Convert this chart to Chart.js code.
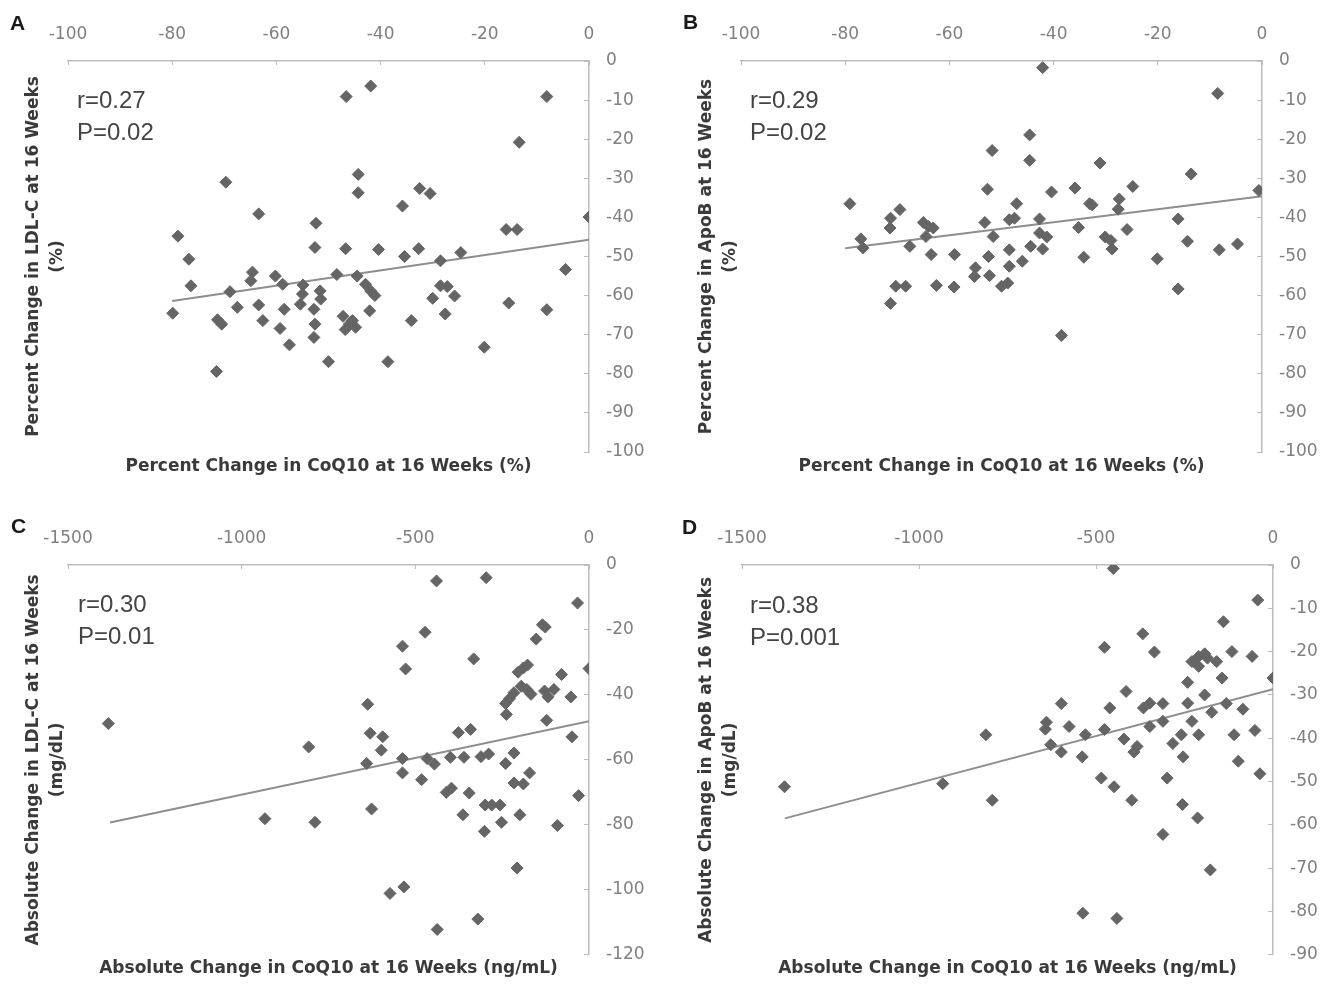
<!DOCTYPE html>
<html>
<head>
<meta charset="utf-8">
<script src="https://cdn.jsdelivr.net/npm/chart.js@4/dist/chart.umd.min.js"></script>
<style>
  body { margin: 0; background: #fff; }
  #wrap { position: relative; width: 1337px; height: 987px; overflow: hidden; }
  canvas { position: absolute; }
  .letter { position: absolute; font: bold 21px "Liberation Sans", Arial, sans-serif; color: #1a1a1a; line-height: 21px; }
  .stat { position: absolute; font: 24px "Liberation Sans", Arial, sans-serif; color: #444; line-height: 32px; }
</style>
</head>
<body>
<div id="wrap">
  <canvas id="chartA" width="673" height="495" style="left:0;top:0"></canvas>
  <canvas id="chartB" width="664" height="495" style="left:673px;top:0"></canvas>
  <canvas id="chartC" width="673" height="492" style="left:0;top:495px"></canvas>
  <canvas id="chartD" width="664" height="492" style="left:673px;top:495px"></canvas>

  <div class="letter" style="left:10px;top:12px">A</div>
  <div class="letter" style="left:683px;top:11px">B</div>
  <div class="letter" style="left:11px;top:515px">C</div>
  <div class="letter" style="left:682px;top:516px">D</div>

  <div class="stat" style="left:77px;top:84px">r=0.27<br>P=0.02</div>
  <div class="stat" style="left:750px;top:84px">r=0.29<br>P=0.02</div>
  <div class="stat" style="left:78px;top:588px">r=0.30<br>P=0.01</div>
  <div class="stat" style="left:750px;top:589px">r=0.38<br>P=0.001</div>
</div>
<script>
// Panel A: % change CoQ10 vs % change LDL-C
const aX = [-46.6, -41.9, -8.1, -13.4, -69.7, -44.3, -44.3, -32.5, -30.5, -35.8, -63.4, 0, -78.9, -52.4, -15.9, -13.8,
  -52.6, -46.7, -40.4, -32.7, -35.4, -24.6, -28.5, -76.8, -76.4, -4.5, -64.6, -64.9, -60.2, -58.8, -48.4, -44.5,
  -42.9, -41.9, -41.1, -54.9, -55.0, -51.6, -51.5, -68.9, -67.5, -63.4, -62.6, -58.5, -59.3, -55.4, -52.8, -52.6,
  -52.8, -57.5, -79.9, -71.3, -70.5, -71.5, -50.0, -38.6, -47.2, -46.0, -46.8, -44.8, -45.4, -42.1, -34.1, -30.0,
  -28.5, -27.2, -25.8, -27.6, -20.1, -15.4, -8.1];
const aY = [-9.1, -6.4, -9.1, -20.8, -31.0, -29.0, -33.7, -32.6, -33.9, -37.1, -39.1, -39.9, -44.8, -41.5, -43.1, -43.1,
  -47.7, -48.0, -48.2, -48.0, -50.0, -49.0, -51.1, -50.7, -57.5, -53.3, -54.0, -56.2, -55.0, -57.1, -54.6, -55.0,
  -57.1, -58.8, -60.0, -57.3, -59.6, -58.8, -60.9, -59.0, -63.0, -62.4, -66.4, -63.5, -68.4, -62.2, -63.5, -67.3,
  -70.7, -72.6, -64.5, -66.2, -67.3, -79.4, -76.9, -76.9, -65.3, -67.3, -68.7, -68.1, -66.4, -63.9, -66.4, -60.7,
  -57.5, -57.7, -60.1, -64.7, -73.2, -61.9, -63.6];
const aTrendX = [-80, 0];
const aTrendY = [-61.4, -45.7];

// Panel B: % change CoQ10 vs % change ApoB
const bX = [-42.1, -8.5, -44.6, -51.8, -44.6, -31.1, -13.6, -52.7, -40.4, -35.9, -24.8, -0.6, -79.1, -47.1, -33.1, -32.6,
  -27.4, -27.6, -69.5, -71.3, -71.4, -65.0, -64.0, -63.1, -64.5, -53.2, -48.5, -47.5, -42.7, -16.1, -77.0, -76.6,
  -67.6, -51.6, -42.7, -41.3, -44.4, -42.1, -35.2, -30.1, -29.0, -28.8, -25.9, -14.3, -8.2, -4.7, -63.5, -59.0,
  -52.5, -48.5, -46.0, -34.2, -20.1, -55.0, -55.2, -52.3, -48.5, -50.0, -48.8, -70.3, -68.4, -62.5, -59.1, -71.3,
  -16.1, -38.5];
const bY = [-1.7, -8.3, -18.9, -22.9, -25.4, -26.1, -28.9, -32.8, -33.5, -32.5, -32.1, -33.1, -36.5, -36.5, -36.5, -36.8,
  -35.3, -37.9, -38.0, -40.2, -42.7, -41.3, -42.3, -42.7, -44.9, -41.3, -40.6, -40.2, -40.4, -40.4, -45.5, -47.8,
  -47.4, -44.9, -44.0, -45.0, -47.4, -48.1, -42.6, -45.0, -45.9, -48.1, -43.1, -46.1, -48.3, -46.8, -49.5, -49.5,
  -50.0, -48.3, -51.2, -50.2, -50.6, -52.9, -55.1, -54.9, -52.5, -57.6, -56.8, -57.6, -57.6, -57.4, -57.8, -62.0,
  -58.3, -70.2];
const bTrendX = [-80, 0];
const bTrendY = [-47.9, -34.6];

// Panel C: absolute change CoQ10 vs absolute change LDL-C
const cX = [-439, -296, -33, -472, -537, -528, -332, -134, -126, -152, -204, -189, -177, 0, -79, -195,
  -179, -167, -216, -229, -240, -128, -118, -101, -52, -238, -122, -1384, -637, -630, -594, -598,
  -376, -341, -49, -807, -640, -537, -537, -466, -445, -399, -360, -311, -289, -216, -240, -482,
  -411, -396, -345, -216, -189, -171, -30, -626, -363, -299, -280, -256, -199, -252, -933, -789,
  -301, -91, -207, -573, -533, -437, -320];
const cY = [-4.9, -3.9, -11.7, -20.7, -25.0, -32.0, -28.9, -18.4, -19.1, -22.8, -33.0, -31.7, -30.8, -31.9, -33.7, -37.3,
  -38.3, -39.8, -39.3, -41.2, -42.6, -38.8, -40.6, -38.3, -40.6, -46.0, -47.8, -48.8, -42.9, -51.8, -52.9, -57.0,
  -51.6, -50.6, -52.9, -56.0, -61.1, -59.6, -64.0, -59.6, -61.3, -59.2, -59.2, -59.0, -58.2, -57.9, -61.1, -66.1,
  -70.0, -68.7, -70.2, -67.1, -67.4, -64.0, -71.0, -75.1, -76.9, -73.9, -73.9, -73.9, -76.9, -79.2, -78.1, -79.2,
  -82.0, -80.2, -93.3, -101.1, -99.1, -112.2, -109.0];
const cTrendX = [-1379, 0];
const cTrendY = [-79.3, -48.1];

// Panel D: absolute change CoQ10 vs absolute change ApoB
const dX = [-451, -43, -140, -368, -476, -335, -116, -59, -193, -210, -185, -229, -159, -210, 0, -144,
  -241, -415, -193, -598, -461, -366, -348, -311, -241, -132, -85, -173, -348, -311, -229, -640,
  -643, -576, -476, -811, -530, -421, -384, -393, -283, -259, -210, -110, -51, -628, -598, -539,
  -254, -98, -485, -449, -299, -37, -1380, -933, -793, -399, -256, -213, -311, -177, -537, -441];
const dY = [-0.8, -8.1, -13.1, -15.9, -19.0, -20.1, -20.0, -21.1, -20.5, -21.1, -21.5, -22.3, -22.3, -23.4, -26.1, -26.1,
  -27.1, -29.2, -30.0, -32.0, -33.0, -33.0, -31.9, -32.0, -31.9, -32.0, -33.3, -34.0, -37.3, -36.1, -36.1, -36.3,
  -37.9, -37.3, -38.0, -39.2, -39.2, -40.2, -41.9, -43.2, -41.2, -39.2, -39.2, -39.2, -38.2, -41.5, -43.2, -44.3,
  -44.3, -45.3, -49.2, -51.2, -49.2, -48.2, -51.2, -50.5, -54.3, -54.3, -55.3, -58.4, -62.2, -70.4, -80.4, -81.6];
const dTrendX = [-1379, 0];
const dTrendY = [-58.5, -28.7];

// Axis labels
const xTitlePct = 'Percent Change in CoQ10 at 16 Weeks (%)';
const xTitleAbs = 'Absolute Change in CoQ10 at 16 Weeks (ng/mL)';
const yTitleA = ['Percent Change in LDL-C at 16 Weeks', '(%)'];
const yTitleB = ['Percent Change in ApoB at 16 Weeks', '(%)'];
const yTitleC = ['Absolute Change in LDL-C at 16 Weeks', '(mg/dL)'];
const yTitleD = ['Absolute Change in ApoB at 16 Weeks', '(mg/dL)'];

function pairs(xs, ys) {
    return xs.map((x, i) => ({ x: x, y: ys[i] }));
}

function makePanel(canvasId, opts) {
    const canvas = document.getElementById(canvasId);
    const W = canvas.width, H = canvas.height;
    const p = opts.plot; // plot box inside the canvas: [left, top, right, bottom]
    const axisGray = '#bdbdbd';
    const tickFont = { family: '"DejaVu Sans", sans-serif', size: 17 };
    const titleFamily = '"DejaVu Sans", sans-serif';

    new Chart(canvas, {
        type: 'scatter',
        data: {
            datasets: [{
                data: pairs(opts.xs, opts.ys),
                pointStyle: 'rectRot',
                pointRadius: 6,
                backgroundColor: '#656565',
                borderColor: '#656565',
                borderWidth: 1,
                xAxisID: 'x',
                yAxisID: 'y'
            }, {
                data: pairs(opts.trendX, opts.trendY),
                showLine: true,
                pointRadius: 0,
                borderColor: '#8e8e8e',
                borderWidth: 2,
                xAxisID: 'x',
                yAxisID: 'y'
            }]
        },
        options: {
            responsive: false,
            animation: false,
            layout: { padding: 0 },
            plugins: { legend: { display: false }, tooltip: { enabled: false } },
            scales: {
                x: {
                    type: 'linear',
                    position: 'top',
                    min: opts.xMin, max: 0,
                    ticks: { stepSize: opts.xStep, color: '#808080', font: tickFont, padding: 20,
                        callback: v => String(v) },
                    grid: { drawOnChartArea: false, drawTicks: true, tickLength: -4, color: axisGray },
                    border: { color: axisGray, width: 1.5 },
                    afterFit: s => { s.height = p[1]; }
                },
                y: {
                    type: 'linear',
                    position: 'right',
                    min: opts.yMin, max: 0,
                    ticks: { stepSize: opts.yStep, color: '#808080', font: tickFont, padding: 22,
                        callback: v => String(v) },
                    grid: { drawOnChartArea: false, drawTicks: true, tickLength: -5, color: axisGray },
                    border: { color: axisGray, width: 1.5 },
                    afterFit: s => { s.width = W - p[2]; }
                },
                xTitle: {
                    type: 'linear',
                    position: 'bottom',
                    ticks: { display: false },
                    grid: { display: false },
                    border: { display: false },
                    title: { display: true, text: opts.xTitle, color: '#3a3a3a',
                        font: { family: titleFamily, size: 17, weight: 'bold', lineHeight: 1.2 },
                        padding: { top: 0, bottom: opts.xTitlePad } },
                    afterFit: s => { s.height = H - p[3]; }
                },
                yTitle: {
                    type: 'linear',
                    position: 'left',
                    ticks: { display: false },
                    grid: { display: false },
                    border: { display: false },
                    title: { display: true, text: opts.yTitle, color: '#3a3a3a',
                        font: { family: titleFamily, size: 17, weight: 'bold', lineHeight: 1.45 },
                        padding: { top: 21, bottom: 0 } },
                    afterFit: s => { s.width = p[0]; }
                }
            }
        }
    });
}

makePanel('chartA', { xs: aX, ys: aY, trendX: aTrendX, trendY: aTrendY, xMin: -100, xStep: 20, yMin: -100, yStep: 10,
    xTitle: xTitlePct, yTitle: yTitleA, plot: [68, 61, 589, 452], xTitlePad: 18 });
makePanel('chartB', { xs: bX, ys: bY, trendX: bTrendX, trendY: bTrendY, xMin: -100, xStep: 20, yMin: -100, yStep: 10,
    xTitle: xTitlePct, yTitle: yTitleB, plot: [68, 61, 589, 452], xTitlePad: 18 });
makePanel('chartC', { xs: cX, ys: cY, trendX: cTrendX, trendY: cTrendY, xMin: -1500, xStep: 500, yMin: -120, yStep: 20,
    xTitle: xTitleAbs, yTitle: yTitleC, plot: [68, 70, 589, 462], xTitlePad: 6 });
makePanel('chartD', { xs: dX, ys: dY, trendX: dTrendX, trendY: dTrendY, xMin: -1500, xStep: 500, yMin: -90, yStep: 10,
    xTitle: xTitleAbs, yTitle: yTitleD, plot: [69, 70, 600, 462], xTitlePad: 6 });
</script>
</body>
</html>
